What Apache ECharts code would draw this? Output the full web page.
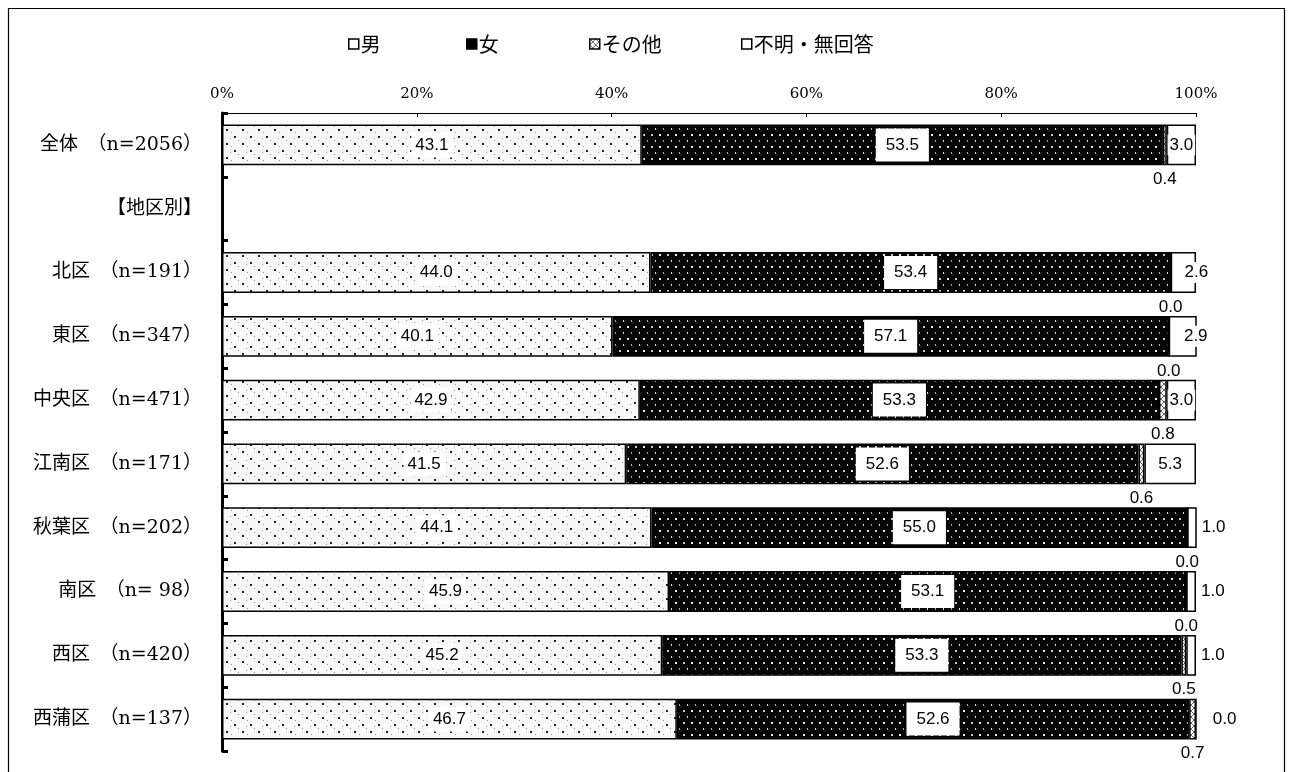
<!DOCTYPE html>
<html><head><meta charset="utf-8">
<script src="https://cdn.jsdelivr.net/npm/echarts@6/dist/echarts.min.js"></script>
<style>html,body{margin:0;padding:0;background:#fff}#c{width:1295px;height:772px}</style>
</head><body><div id="c"></div>
<script>
const categories = ['全体　（n=2056）','【地区別】','北区　（n=191）','東区　（n=347）','中央区　（n=471）','江南区　（n=171）','秋葉区　（n=202）','南区　（n= 98）','西区　（n=420）','西蒲区　（n=137）'];
const seriesNames = ['男','女','その他','不明・無回答'];
const male    = [43.1, null, 44.0, 40.1, 42.9, 41.5, 44.1, 45.9, 45.2, 46.7];
const female  = [53.5, null, 53.4, 57.1, 53.3, 52.6, 55.0, 53.1, 53.3, 52.6];
const other   = [0.4,  null, 0.0,  0.0,  0.8,  0.6,  0.0,  0.0,  0.5,  0.7];
const unknown = [3.0,  null, 2.6,  2.9,  3.0,  5.3,  1.0,  1.0,  1.0,  0.0];
const xTicks = [0, 20, 40, 60, 80, 100];

function makePattern(w, h, draw) {
  const c = document.createElement('canvas');
  c.width = w; c.height = h;
  const g = c.getContext('2d');
  draw(g);
  return { image: c, repeat: 'repeat' };
}
const malePat = makePattern(16, 14, g => {
  g.fillStyle = '#f8f8f8'; g.fillRect(0,0,16,14);
  g.fillStyle = '#222'; g.fillRect(2,3,2,2); g.fillRect(10,10,2,2);
  g.fillStyle = '#999'; g.fillRect(7,6,1,1); g.fillRect(14,0,1,1); g.fillRect(6,12,1,1);
});
const femalePat = makePattern(16, 12, g => {
  g.fillStyle = '#050505'; g.fillRect(0,0,16,12);
  g.fillStyle = '#eee'; g.fillRect(3,2,2,2);
  g.fillStyle = '#c8c8c8'; g.fillRect(11,2,2,2);
  g.fillStyle = '#aaa'; g.fillRect(7,8,1,2);
  g.fillStyle = '#ddd'; g.fillRect(15,8,1,2);
});
const otherPat = makePattern(6, 6, g => {
  g.fillStyle = '#fff'; g.fillRect(0,0,6,6);
  g.strokeStyle = '#666'; g.lineWidth = 1;
  g.beginPath(); g.moveTo(0,0); g.lineTo(6,6); g.moveTo(6,0); g.lineTo(0,6); g.stroke();
});

const serif = "'DejaVu Serif','Noto Sans CJK JP'";
const cjk = "'Noto Sans CJK JP'";
const sans = "'Liberation Sans',Arial,sans-serif";
const fmt = p => (p.value == null ? '' : Number(p.value).toFixed(1));

const border = { borderColor: '#000', borderWidth: 1.5 };

const unknownData = unknown.map(v => {
  if (v == null) return v;
  let label;
  if (v >= 3) label = { position: 'inside' };
  else if (v >= 2) label = { position: 'inside', offset: [13, 0] };
  else if (v > 0) label = { position: 'right', distance: 3 };
  else label = { position: 'right', distance: 14 };
  return { value: v, label };
});

const legendFills = ['#fff', '#000', otherPat, '#fff'];
const legendLefts = [343, 461, 584, 736];
const legends = seriesNames.map((n, i) => ({
  top: 29, left: legendLefts[i], icon: 'rect', itemWidth: 10, itemHeight: 10, selectedMode: false,
  textStyle: { fontFamily: cjk, fontSize: 20, color: '#000', padding: [0, 0, 0, -3] },
  data: [{ name: n, itemStyle: { color: legendFills[i], borderColor: '#000', borderWidth: 1.5 } }]
}));

const option = {
  animation: false,
  backgroundColor: '#fff',
  graphic: [{ type: 'rect', shape: { x: 8.5, y: 8.5, width: 1276, height: 800 }, style: { fill: 'none', stroke: '#000', lineWidth: 1.2 }, silent: true }],
  legend: legends,
  grid: { left: 222, right: 99, top: 113, bottom: 21, containLabel: false },
  xAxis: {
    type: 'value', position: 'top', min: 0, max: 100, interval: 20,
    axisLine: { show: true, lineStyle: { color: '#000', width: 1 } },
    axisTick: { show: true, inside: true, length: 4, lineStyle: { color: '#000' } },
    axisLabel: { formatter: '{value}%', fontFamily: serif, fontSize: 15, color: '#000', margin: 11 },
    splitLine: { show: false }
  },
  yAxis: {
    type: 'category', inverse: true, data: categories,
    axisLine: { show: true, lineStyle: { color: '#000', width: 3 } },
    axisTick: { show: true, inside: true, length: 6, lineStyle: { color: '#000', width: 3 } },
    axisLabel: { fontFamily: serif, fontSize: 19, color: '#000', margin: 20 }
  },
  series: [
    { name: seriesNames[0], type: 'bar', stack: 't', barWidth: '64%', data: male,
      itemStyle: Object.assign({ color: malePat }, border),
      label: { show: true, position: 'inside', formatter: fmt, fontFamily: sans, fontSize: 17, color: '#000', backgroundColor: '#fff', padding: [4, 4] } },
    { name: seriesNames[1], type: 'bar', stack: 't', data: female,
      itemStyle: Object.assign({ color: femalePat }, border),
      label: { show: true, position: 'inside', formatter: fmt, fontFamily: sans, fontSize: 17, color: '#000', backgroundColor: '#fff', padding: [8, 10] } },
    { name: seriesNames[2], type: 'bar', stack: 't', data: other,
      itemStyle: Object.assign({ color: otherPat }, border),
      label: { show: true, position: 'bottom', distance: 5, formatter: fmt, fontFamily: sans, fontSize: 17, color: '#000' } },
    { name: seriesNames[3], type: 'bar', stack: 't', data: unknownData,
      itemStyle: Object.assign({ color: '#fff' }, border),
      label: { show: true, formatter: fmt, fontFamily: sans, fontSize: 17, color: '#000', backgroundColor: '#fff', padding: [2, 2] } }
  ]
};
echarts.init(document.getElementById('c')).setOption(option);
</script></body></html>
